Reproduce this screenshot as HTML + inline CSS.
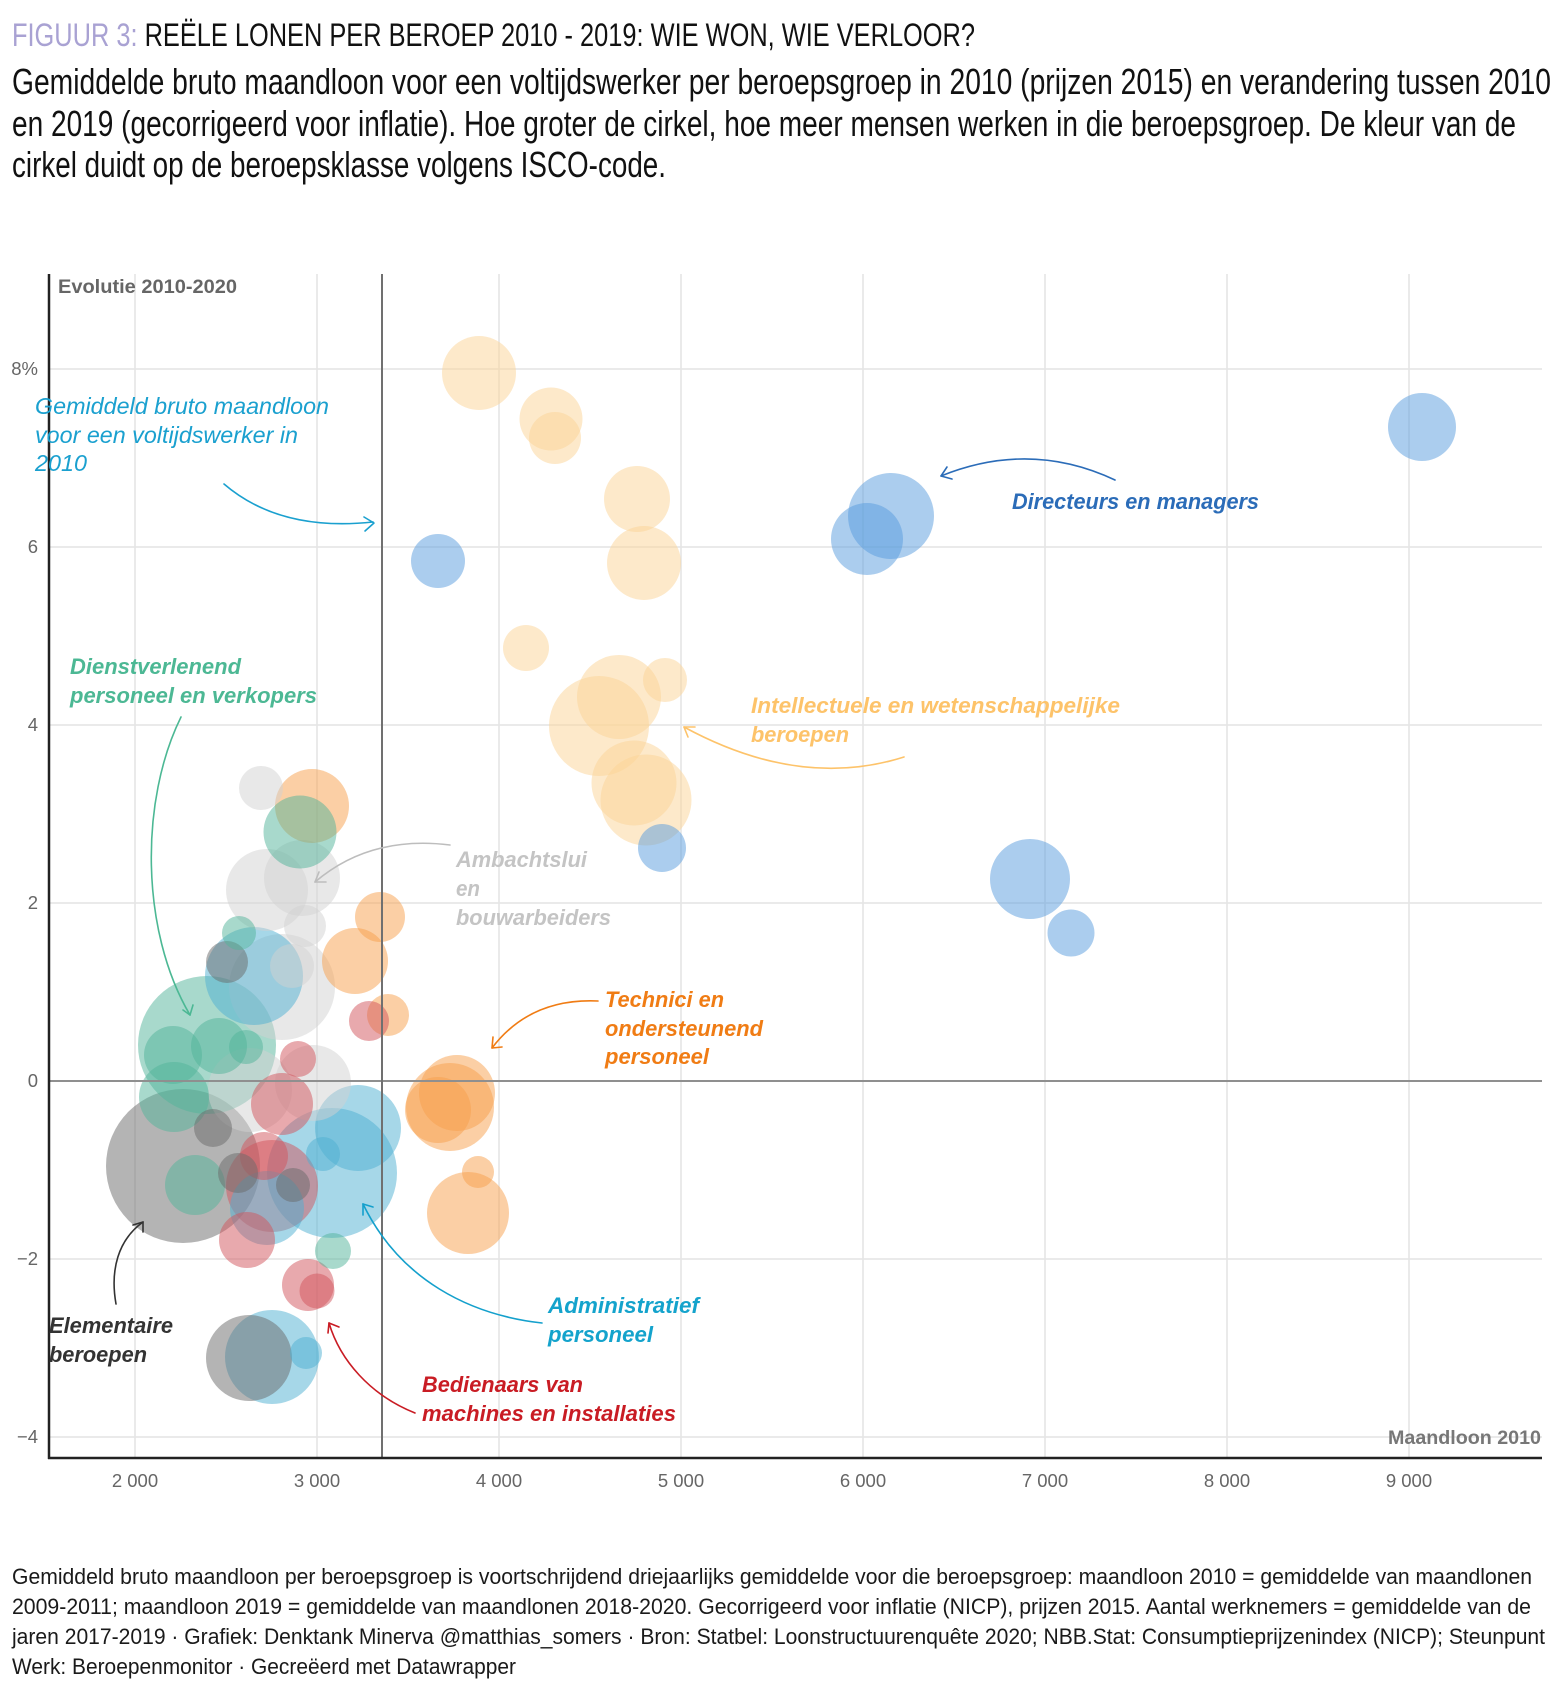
<!DOCTYPE html>
<html>
<head>
<meta charset="utf-8">
<style>
html,body{margin:0;padding:0;background:#fff;}
svg{display:block;}
text{font-family:"Liberation Sans",Arial,sans-serif;}
.ann{font-style:italic;font-weight:bold;font-size:22.5px;}
.tick{font-size:18.5px;fill:#666;}
</style>
</head>
<body>
<svg width="1564" height="1705" viewBox="0 0 1564 1705" xmlns="http://www.w3.org/2000/svg">
<rect x="0" y="0" width="1564" height="1705" fill="#fff"/>

<!-- Title -->
<text x="12" y="46" font-size="32" fill="#111" textLength="963" lengthAdjust="spacingAndGlyphs"><tspan fill="#a9a2d3">FIGUUR 3:</tspan> REËLE LONEN PER BEROEP 2010 - 2019: WIE WON, WIE VERLOOR?</text>

<!-- Subtitle -->
<text x="12" y="94" font-size="36" fill="#111" textLength="1539" lengthAdjust="spacingAndGlyphs">Gemiddelde bruto maandloon voor een voltijdswerker per beroepsgroep in 2010 (prijzen 2015) en verandering tussen 2010</text>
<text x="12" y="136" font-size="36" fill="#111" textLength="1504" lengthAdjust="spacingAndGlyphs">en 2019 (gecorrigeerd voor inflatie). Hoe groter de cirkel, hoe meer mensen werken in die beroepsgroep. De kleur van de</text>
<text x="12" y="177" font-size="36" fill="#111" textLength="654" lengthAdjust="spacingAndGlyphs">cirkel duidt op de beroepsklasse volgens ISCO-code.</text>

<!-- Grid -->
<g stroke="#e4e4e4" stroke-width="1.5">
  <line x1="135" y1="274" x2="135" y2="1458"/>
  <line x1="317" y1="274" x2="317" y2="1458"/>
  <line x1="499" y1="274" x2="499" y2="1458"/>
  <line x1="681" y1="274" x2="681" y2="1458"/>
  <line x1="863" y1="274" x2="863" y2="1458"/>
  <line x1="1045" y1="274" x2="1045" y2="1458"/>
  <line x1="1227" y1="274" x2="1227" y2="1458"/>
  <line x1="1409" y1="274" x2="1409" y2="1458"/>
  <line x1="49" y1="369" x2="1542" y2="369"/>
  <line x1="49" y1="547" x2="1542" y2="547"/>
  <line x1="49" y1="725" x2="1542" y2="725"/>
  <line x1="49" y1="903" x2="1542" y2="903"/>
  <line x1="49" y1="1259" x2="1542" y2="1259"/>
  <line x1="49" y1="1437" x2="1542" y2="1437"/>
</g>

<!-- Circles -->
<g fill-opacity="0.5">
  <circle cx="183" cy="1166" r="77" fill="rgb(105,105,105)"/>
  <circle cx="207" cy="1045" r="69" fill="rgb(81,179,153)"/>
  <circle cx="332" cy="1173" r="65" fill="rgb(77,175,209)"/>
  <circle cx="282" cy="987" r="53" fill="rgb(209,209,209)"/>
  <circle cx="599" cy="726" r="50" fill="rgb(251,212,150)"/>
  <circle cx="254" cy="976" r="49" fill="rgb(77,175,209)"/>
  <circle cx="272" cy="1357" r="47" fill="rgb(77,175,209)"/>
  <circle cx="272" cy="1186" r="46" fill="rgb(209,83,91)"/>
  <circle cx="646" cy="800" r="45.5" fill="rgb(251,212,150)"/>
  <circle cx="450" cy="1107" r="44" fill="rgb(247,160,75)"/>
  <circle cx="891" cy="516" r="43" fill="rgb(87,155,221)"/>
  <circle cx="358" cy="1128" r="43" fill="rgb(77,175,209)"/>
  <circle cx="249" cy="1358" r="43" fill="rgb(105,105,105)"/>
  <circle cx="634" cy="783" r="42.5" fill="rgb(251,212,150)"/>
  <circle cx="619" cy="697" r="42" fill="rgb(251,212,150)"/>
  <circle cx="250" cy="1090" r="42" fill="rgb(209,209,209)"/>
  <circle cx="267" cy="890" r="41" fill="rgb(209,209,209)"/>
  <circle cx="468" cy="1213" r="41" fill="rgb(247,160,75)"/>
  <circle cx="1030" cy="879" r="40" fill="rgb(87,155,221)"/>
  <circle cx="457" cy="1093" r="38" fill="rgb(247,160,75)"/>
  <circle cx="302" cy="878" r="38" fill="rgb(209,209,209)"/>
  <circle cx="313" cy="1083" r="38" fill="rgb(209,209,209)"/>
  <circle cx="479" cy="373" r="37" fill="rgb(251,212,150)"/>
  <circle cx="644" cy="563" r="37" fill="rgb(251,212,150)"/>
  <circle cx="312" cy="806" r="37" fill="rgb(247,160,75)"/>
  <circle cx="267" cy="1208" r="37" fill="rgb(77,175,209)"/>
  <circle cx="300" cy="832" r="36.5" fill="rgb(81,179,153)"/>
  <circle cx="867" cy="539" r="36" fill="rgb(87,155,221)"/>
  <circle cx="174" cy="1097" r="35" fill="rgb(81,179,153)"/>
  <circle cx="1422" cy="427" r="34" fill="rgb(87,155,221)"/>
  <circle cx="637" cy="499" r="33" fill="rgb(251,212,150)"/>
  <circle cx="355" cy="961" r="33" fill="rgb(247,160,75)"/>
  <circle cx="438" cy="1110" r="33" fill="rgb(247,160,75)"/>
  <circle cx="551" cy="419" r="31.5" fill="rgb(251,212,150)"/>
  <circle cx="282" cy="1104" r="31" fill="rgb(209,83,91)"/>
  <circle cx="195" cy="1185" r="30" fill="rgb(81,179,153)"/>
  <circle cx="173" cy="1055" r="29" fill="rgb(81,179,153)"/>
  <circle cx="219" cy="1046" r="28" fill="rgb(81,179,153)"/>
  <circle cx="247" cy="1240" r="28" fill="rgb(209,83,91)"/>
  <circle cx="438" cy="561" r="27" fill="rgb(87,155,221)"/>
  <circle cx="555" cy="438" r="26" fill="rgb(251,212,150)"/>
  <circle cx="308" cy="1285" r="26" fill="rgb(209,83,91)"/>
  <circle cx="380" cy="917" r="25" fill="rgb(247,160,75)"/>
  <circle cx="662" cy="848" r="24" fill="rgb(87,155,221)"/>
  <circle cx="264" cy="1156" r="24" fill="rgb(209,83,91)"/>
  <circle cx="1071" cy="933" r="23.5" fill="rgb(87,155,221)"/>
  <circle cx="526" cy="648" r="23" fill="rgb(251,212,150)"/>
  <circle cx="665" cy="680" r="22" fill="rgb(251,212,150)"/>
  <circle cx="261" cy="788" r="22" fill="rgb(209,209,209)"/>
  <circle cx="292" cy="966" r="22" fill="rgb(209,209,209)"/>
  <circle cx="388" cy="1015" r="21" fill="rgb(247,160,75)"/>
  <circle cx="305" cy="926" r="21" fill="rgb(209,209,209)"/>
  <circle cx="227" cy="962" r="21" fill="rgb(105,105,105)"/>
  <circle cx="238" cy="1173" r="20" fill="rgb(105,105,105)"/>
  <circle cx="369" cy="1021" r="20" fill="rgb(209,83,91)"/>
  <circle cx="213" cy="1128" r="19" fill="rgb(105,105,105)"/>
  <circle cx="298" cy="1059" r="18" fill="rgb(209,83,91)"/>
  <circle cx="333" cy="1251" r="18" fill="rgb(81,179,153)"/>
  <circle cx="317" cy="1291" r="17.5" fill="rgb(209,83,91)"/>
  <circle cx="239" cy="933" r="17" fill="rgb(81,179,153)"/>
  <circle cx="246" cy="1047" r="17" fill="rgb(81,179,153)"/>
  <circle cx="323" cy="1154" r="17" fill="rgb(77,175,209)"/>
  <circle cx="293" cy="1185" r="17" fill="rgb(105,105,105)"/>
  <circle cx="478" cy="1172" r="16" fill="rgb(247,160,75)"/>
  <circle cx="306" cy="1353" r="16" fill="rgb(77,175,209)"/>
</g>

<!-- Zero line and reference line -->
<line x1="49" y1="1081" x2="1542" y2="1081" stroke="#8f8f8f" stroke-width="2"/>
<line x1="382" y1="274" x2="382" y2="1458" stroke="#707070" stroke-width="2"/>

<!-- Axes -->
<line x1="49" y1="274" x2="49" y2="1459" stroke="#222" stroke-width="2.5"/>
<line x1="48" y1="1458" x2="1542" y2="1458" stroke="#222" stroke-width="2.5"/>

<!-- Y tick labels -->
<g class="tick" text-anchor="end">
  <text x="38" y="375">8%</text>
  <text x="38" y="553">6</text>
  <text x="38" y="731">4</text>
  <text x="38" y="909">2</text>
  <text x="38" y="1087">0</text>
  <text x="38" y="1265">−2</text>
  <text x="38" y="1443">−4</text>
</g>

<!-- X tick labels -->
<g class="tick" text-anchor="middle">
  <text x="135" y="1487">2 000</text>
  <text x="317" y="1487">3 000</text>
  <text x="499" y="1487">4 000</text>
  <text x="681" y="1487">5 000</text>
  <text x="863" y="1487">6 000</text>
  <text x="1045" y="1487">7 000</text>
  <text x="1227" y="1487">8 000</text>
  <text x="1409" y="1487">9 000</text>
</g>

<text x="58" y="293" font-size="19" font-weight="bold" fill="#666" textLength="179" lengthAdjust="spacingAndGlyphs">Evolutie 2010-2020</text>
<text x="1541" y="1444" font-size="19" font-weight="bold" fill="#777" text-anchor="end" textLength="153" lengthAdjust="spacingAndGlyphs">Maandloon 2010</text>

<!-- Annotations: arrows -->
<g fill="none" stroke-width="1.6" stroke-linecap="round" stroke-linejoin="round">
  <path d="M224,484 Q280,532 373,522" stroke="#1aa0cf"/>
  <path d="M364,517 L374,523 L365,531" stroke="#1aa0cf"/>

  <path d="M1115,480 Q1030,440 941,476" stroke="#2b6cb8"/>
  <path d="M947,467 L941,476 L952,479" stroke="#2b6cb8"/>

  <path d="M904,757 Q800,790 684,727" stroke="#fdc36a"/>
  <path d="M695,727 L684,727 L688,737" stroke="#fdc36a"/>

  <path d="M450,845 Q370,835 315,882" stroke="#bdbdbd"/>
  <path d="M326,882 L315,882 L319,872" stroke="#bdbdbd"/>

  <path d="M181,717 C140,800 140,930 190,1015" stroke="#4cb894"/>
  <path d="M183,1010 L190,1015 L193,1005" stroke="#4cb894"/>

  <path d="M598,1001 Q530,998 492,1048" stroke="#f07c14"/>
  <path d="M493,1037 L492,1048 L502,1047" stroke="#f07c14"/>

  <path d="M116,1304 C110,1270 118,1240 143,1222" stroke="#333"/>
  <path d="M133,1225 L143,1222 L143,1232" stroke="#333"/>

  <path d="M542,1323 C470,1315 400,1280 363,1204" stroke="#14a0cc"/>
  <path d="M373,1207 L363,1204 L363,1215" stroke="#14a0cc"/>

  <path d="M415,1413 C370,1395 340,1360 329,1323" stroke="#c91c24"/>
  <path d="M339,1327 L329,1323 L328,1333" stroke="#c91c24"/>
</g>

<!-- Annotations: text -->
<g font-style="italic" font-size="23" fill="#1aa0cf">
  <text x="35" y="414" textLength="294" lengthAdjust="spacingAndGlyphs">Gemiddeld bruto maandloon</text>
  <text x="35" y="443" textLength="263" lengthAdjust="spacingAndGlyphs">voor een voltijdswerker in</text>
  <text x="35" y="471" textLength="52" lengthAdjust="spacingAndGlyphs">2010</text>
</g>

<text class="ann" x="1012" y="509" fill="#2b6cb8" textLength="247" lengthAdjust="spacingAndGlyphs">Directeurs en managers</text>

<g class="ann" fill="#4cb894">
  <text x="70" y="674" textLength="171" lengthAdjust="spacingAndGlyphs">Dienstverlenend</text>
  <text x="70" y="703" textLength="247" lengthAdjust="spacingAndGlyphs">personeel en verkopers</text>
</g>

<g class="ann" fill="#fdc36a">
  <text x="751" y="713" textLength="369" lengthAdjust="spacingAndGlyphs">Intellectuele en wetenschappelijke</text>
  <text x="751" y="742" textLength="98" lengthAdjust="spacingAndGlyphs">beroepen</text>
</g>

<g class="ann" fill="#c4c4c4">
  <text x="456" y="867" textLength="131" lengthAdjust="spacingAndGlyphs">Ambachtslui</text>
  <text x="456" y="896" textLength="24" lengthAdjust="spacingAndGlyphs">en</text>
  <text x="456" y="925" textLength="155" lengthAdjust="spacingAndGlyphs">bouwarbeiders</text>
</g>

<g class="ann" fill="#f07c14">
  <text x="605" y="1007" textLength="119" lengthAdjust="spacingAndGlyphs">Technici en</text>
  <text x="605" y="1036" textLength="158" lengthAdjust="spacingAndGlyphs">ondersteunend</text>
  <text x="605" y="1064" textLength="104" lengthAdjust="spacingAndGlyphs">personeel</text>
</g>

<g class="ann" fill="#14a3cc">
  <text x="548" y="1313" textLength="151" lengthAdjust="spacingAndGlyphs">Administratief</text>
  <text x="548" y="1342" textLength="105" lengthAdjust="spacingAndGlyphs">personeel</text>
</g>

<g class="ann" fill="#c91c24">
  <text x="422" y="1392" textLength="161" lengthAdjust="spacingAndGlyphs">Bedienaars van</text>
  <text x="422" y="1421" textLength="254" lengthAdjust="spacingAndGlyphs">machines en installaties</text>
</g>

<g class="ann" fill="#333">
  <text x="49" y="1333" textLength="124" lengthAdjust="spacingAndGlyphs">Elementaire</text>
  <text x="49" y="1362" textLength="98" lengthAdjust="spacingAndGlyphs">beroepen</text>
</g>

<!-- Footnote -->
<g font-size="22" fill="#1a1a1a">
  <text x="12" y="1584" textLength="1520" lengthAdjust="spacingAndGlyphs">Gemiddeld bruto maandloon per beroepsgroep is voortschrijdend driejaarlijks gemiddelde voor die beroepsgroep: maandloon 2010 = gemiddelde van maandlonen</text>
  <text x="12" y="1614" textLength="1519" lengthAdjust="spacingAndGlyphs">2009-2011; maandloon 2019 = gemiddelde van maandlonen 2018-2020. Gecorrigeerd voor inflatie (NICP), prijzen 2015. Aantal werknemers = gemiddelde van de</text>
  <text x="12" y="1644" textLength="1533" lengthAdjust="spacingAndGlyphs">jaren 2017-2019 · Grafiek: Denktank Minerva @matthias_somers · Bron: Statbel: Loonstructuurenquête 2020; NBB.Stat: Consumptieprijzenindex (NICP); Steunpunt</text>
  <text x="12" y="1674" textLength="504" lengthAdjust="spacingAndGlyphs">Werk: Beroepenmonitor · Gecreëerd met Datawrapper</text>
</g>
</svg>
</body>
</html>
